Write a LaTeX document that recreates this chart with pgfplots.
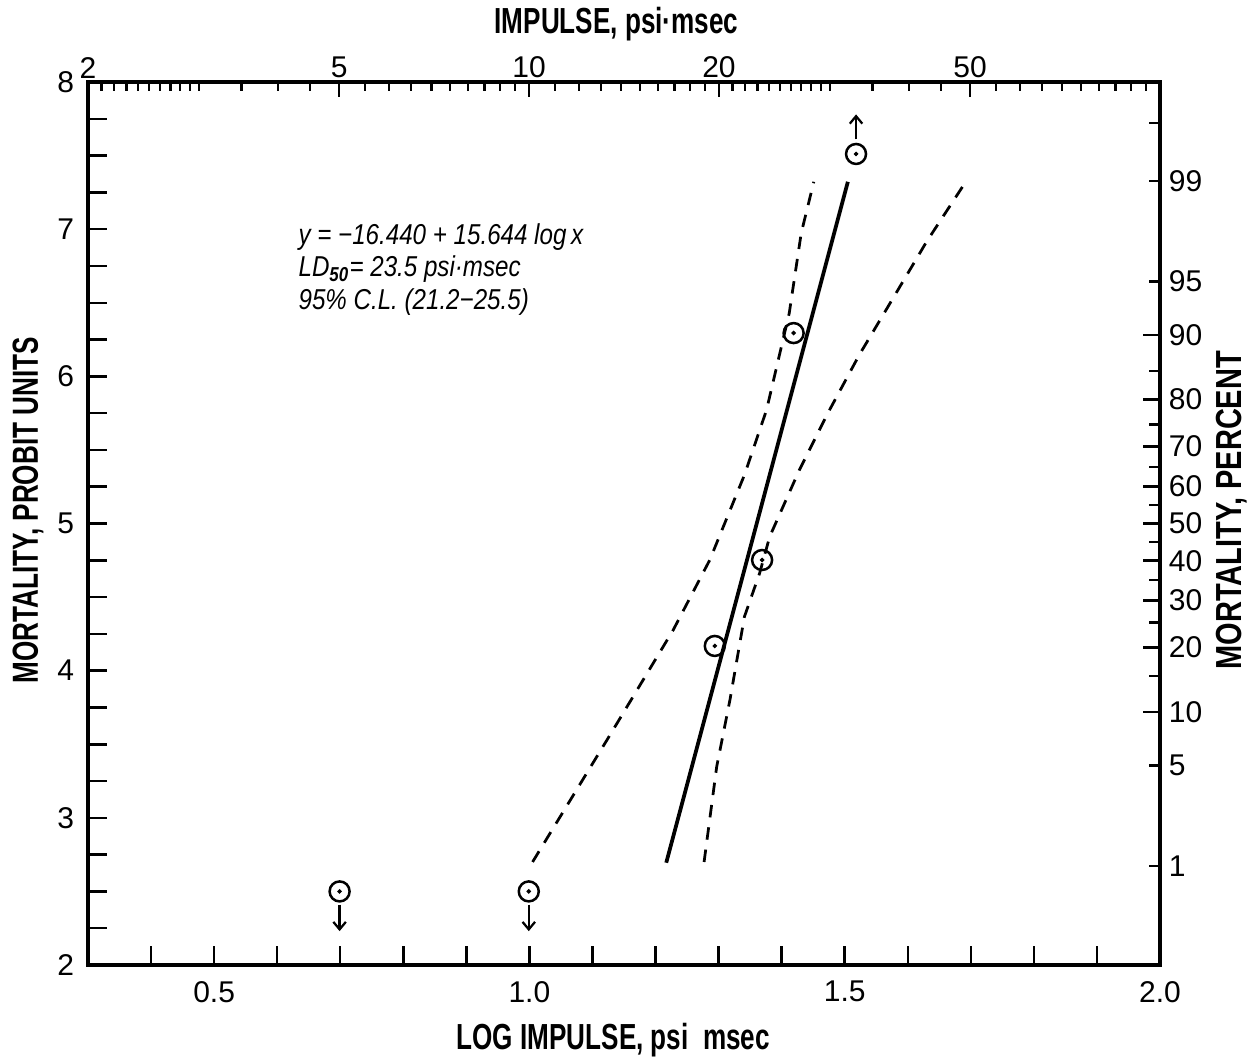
\documentclass[border=0pt]{standalone}
\usepackage{pgfplots}
\pgfplotsset{compat=1.18}
\usetikzlibrary{arrows.meta}
\usepackage{fontspec}
\setmainfont{Liberation Sans}
\newfontfamily\condfont[FakeStretch=0.72]{Liberation Sans}
\newfontfamily\semicond[FakeStretch=0.8]{Liberation Sans}
\newfontfamily\annfont[FakeStretch=0.84]{Liberation Sans}

\pgfplotsset{
  frame/.style={width=428.8pt,height=353.2pt,scale only axis,
    axis line style={line width=1.3pt},
    every tick/.style={black,line width=1pt},
    tick align=inside,
    tick label style={font=\fontsize{12}{14}\selectfont},
    /pgf/number format/assume math mode=true},
}

\begin{document}
\begin{tikzpicture}
\path[use as bounding box] (-35.2pt,-37.2pt) rectangle (466pt,386pt);

% top scale: impulse, log
\begin{axis}[frame, xmode=log, xmin=2, xmax=100, ymin=2, ymax=8,
  axis x line*=top, hide y axis,
  xtick={2,5,10,20,50}, xticklabels={2,5,10,20,50},
  minor xtick={2.1,2.2,2.3,2.4,2.5,2.6,2.7,2.8,2.9,3,3.5,4,4.5,5.5,6,6.5,7,7.5,8,8.5,9,9.5,11,12,13,14,15,16,17,18,19,21,22,23,24,25,26,27,28,29,30,35,40,45,55,60,65,70,75,80,85,90,95},
  major tick length=6pt, minor tick length=3.5pt,
  xticklabel style={yshift=-2pt},
  xlabel={\condfont\bfseries\fontsize{14.5}{16}\selectfont IMPULSE, psi·msec},
  xlabel style={at={(axis description cs:0.493,1.066)},anchor=center}]
\end{axis}

% right scale: percent mortality
\begin{axis}[frame, xmin=0.3, xmax=2, ymin=2, ymax=8,
  axis y line*=right, hide x axis,
  ytick={3.718,4.158,4.476,4.747,5,5.253,5.524,5.842,6.282},
  yticklabels={10,20,30,40,50,60,70,80,90},
  extra y ticks={2.674,3.355,6.645,7.326},
  extra y tick labels={1,5,95,99},
  extra y tick style={major tick length=4.5pt},
  minor ytick={3.964,4.326,4.615,4.874,5.126,5.385,5.674,6.036,7.72},
  major tick length=7pt, minor tick length=4.5pt,
  yticklabel style={anchor=west,xshift=0pt},
  ylabel={\semicond\bfseries\fontsize{14.5}{16}\selectfont MORTALITY, PERCENT},
  ylabel style={at={(axis description cs:1.067,0.515)},anchor=center,rotate=0}]
\end{axis}

% main: probit vs log impulse
\begin{axis}[frame, xmin=0.3, xmax=2, ymin=2, ymax=8,
  xtick pos=left, ytick pos=left,
  xtick={0.5,1.0,1.5,2.0}, xticklabels={0.5,1.0,1.5,2.0},
  minor xtick={0.4,0.6,0.7,0.8,0.9,1.1,1.2,1.3,1.4,1.6,1.7,1.8,1.9},
  ytick={2,3,4,5,6,7,8}, yticklabels={2,3,4,5,6,7,8},
  minor y tick num=3,
  major tick length=7.5pt, minor tick length=7.5pt,
  xticklabel style={yshift=-3pt},
  yticklabel style={xshift=-2pt},
  xlabel={\condfont\bfseries\fontsize{14.5}{16}\selectfont LOG IMPULSE, psi\ \ msec},
  xlabel style={at={(axis description cs:0.49,-0.085)},anchor=center},
  ylabel={\condfont\bfseries\fontsize{14.5}{16}\selectfont MORTALITY, PROBIT UNITS},
  ylabel style={at={(axis description cs:-0.056,0.515)},anchor=center}]

% regression line
\addplot[black, line width=1.5pt] coordinates {(1.217,2.695) (1.505,7.322)};

% 95% confidence limits
\addplot[black, line width=1.1pt, dash pattern=on 5pt off 4pt] coordinates {
  (1.005,2.70) (1.123,3.529) (1.228,4.276) (1.286,4.752) (1.341,5.330)
  (1.376,5.771) (1.412,6.428) (1.431,6.972) (1.451,7.322)};
\addplot[black, line width=1.1pt, dash pattern=on 5pt off 4pt] coordinates {
  (1.277,2.70) (1.297,3.347) (1.318,3.801) (1.341,4.367) (1.365,4.661)
  (1.381,4.910) (1.428,5.363) (1.473,5.748) (1.523,6.145) (1.575,6.519)
  (1.630,6.916) (1.692,7.322)};

% observed points
\addplot[only marks, mark=o, mark size=4pt, mark options={line width=1pt}] coordinates {
  (0.699,2.5) (0.999,2.5) (1.294,4.168) (1.369,4.752) (1.419,6.294) (1.518,7.511)};
\addplot[only marks, mark=*, mark size=0.7pt] coordinates {
  (0.699,2.5) (0.999,2.5) (1.294,4.168) (1.369,4.752) (1.419,6.294) (1.518,7.511)};

% 0 % and 100 % arrows
\addplot[black, line width=0.9pt, -{Straight Barb[length=3pt,width=5pt]}] coordinates {(0.699,2.41) (0.699,2.23)};
\addplot[black, line width=0.9pt, -{Straight Barb[length=3pt,width=5pt]}] coordinates {(0.999,2.41) (0.999,2.23)};
\addplot[black, line width=0.9pt, -{Straight Barb[length=3pt,width=5pt]}] coordinates {(1.518,7.61) (1.518,7.78)};

\node[anchor=north west, align=left, font=\annfont\itshape\fontsize{11.5}{13}\selectfont]
  at (axis cs:0.62,7.10) {y = −16.440 + 15.644 log\,x\\
  LD\textsubscript{\bfseries 50}= 23.5 psi·msec\\
  95\% C.L. (21.2−25.5)};
\end{axis}
\end{tikzpicture}
\end{document}
